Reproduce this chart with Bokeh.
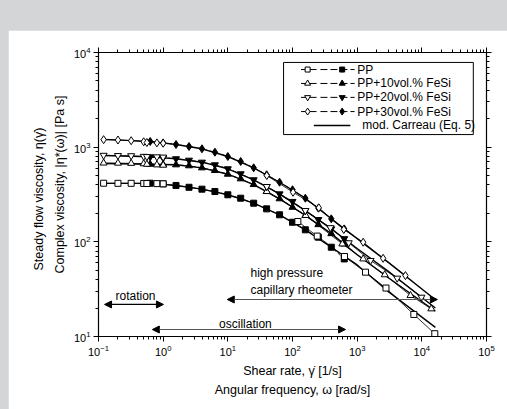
import math
from bokeh.plotting import figure
from bokeh.models import (LogAxis, Range1d, LinearScale, Arrow, NormalHead, Label, Title,
                          BoxAnnotation, LogTicker, CustomJSTickFormatter)
from bokeh.embed import file_html
from bokeh.resources import INLINE

FONT = "Liberation Sans"

# ---------------- data ----------------
# oscillation (complex viscosity, filled symbols)
omega = [0.63, 1.0, 1.58, 2.51, 3.98, 6.31, 10, 15.8, 25.1, 39.8, 63.1, 100, 158, 251, 398, 631]
eta_pp_osc   = [416, 410, 394, 377, 360, 340, 314, 289, 256, 223, 193, 161, 134, 112, 87.7, 66]
eta_pp10_osc = [660, 655, 651, 636, 605, 567, 518, 463, 403, 340, 285, 232, 190, 152, 122, 95]
eta_pp20_osc = [790, 770, 754, 728, 694, 651, 591, 523, 452, 384, 321, 267, 214, 172, 137, 108]
eta_pp30_osc = [1150, 1110, 1067, 1016, 961, 885, 797, 706, 605, 511, 426, 355, 289, 227, 175, 137]

# steady flow (rotation + capillary, open symbols)
rate_rot = [0.12, 0.2, 0.32, 0.5, 0.56, 0.8, 1.0]
eta_pp_rot   = [416, 415, 415, 414, 413, 412, 410]
eta_pp10_rot = [680, 678, 675, 668, 660, 650, 645]
eta_pp20_rot = [820, 815, 812, 800, 795, 790, 785]
eta_pp30_rot = [1200, 1190, 1170, 1140, 1120, 1110, 1100]

rate_cap_pp = [121, 241, 637, 1345, 2790, 7520, 15860]
eta_pp_cap  = [164, 115, 70, 47.8, 32.5, 17.1, 10.7]
rate_cap_pp10 = [40, 160, 590, 1240, 2670, 6680, 14000]
eta_pp10_cap  = [340, 190, 95, 66, 44.9, 27.1, 19.6]
rate_cap_pp20 = [40, 158, 386, 741, 1610, 4160, 9880]
eta_pp20_cap  = [384, 214, 141, 97.7, 63.5, 41.3, 26]
rate_cap_pp30 = [40, 102, 255, 621, 1240, 2520, 5580]
eta_pp30_cap  = [502, 334, 229, 135, 99, 67, 44]

# modified Carreau model curves
rate_mod = [0.12, 0.63, 1.58, 3.98, 10, 25.1, 63.1, 158, 398, 1000, 3000, 16200]
mod_pp   = [414, 414, 394, 360, 314, 256, 193, 134, 87.7, 57, 30, 12.5]
mod_pp10 = [672, 660, 651, 605, 518, 403, 285, 190, 122, 73, 42, 18.5]
mod_pp20 = [818, 790, 754, 694, 591, 452, 321, 214, 137, 85, 49, 20]
mod_pp30 = [1210, 1150, 1067, 961, 797, 605, 426, 289, 175, 108, 61, 24.4]

# measurement-range arrows
rot_range = [0.124, 1.01]
rot_level = 21.8
osc_range = [0.68, 660]
osc_level = 11.85
cap_range = [9.8, 17400]
cap_level = 24.6

legend_labels = ["PP", "PP+10vol.% FeSi", "PP+20vol.% FeSi", "PP+30vol.% FeSi", "mod. Carreau (Eq. 5)"]
x_title = ["Shear rate, \u03b3\u0307 [1/s]", "Angular frequency, \u03c9 [rad/s]"]
y_title = ["Steady flow viscosity, \u03b7(\u03b3\u0307)", "Complex viscosity, |\u03b7*(\u03c9)| [Pa s]"]

# ---------------- figure ----------------
p = figure(width=499, height=379, x_axis_type="log", y_axis_type="log",
           x_range=Range1d(0.1, 1e5), y_range=Range1d(10, 1e4),
           output_backend="svg", toolbar_location=None,
           min_border_left=90, min_border_right=21, min_border_top=22, min_border_bottom=73)
p.margin = (30, 0, 0, 8)
p.xgrid.visible = False
p.ygrid.visible = False
p.outline_line_color = None
p.background_fill_color = "white"
p.border_fill_color = "white"

blank = CustomJSTickFormatter(code="return ''")
p.add_layout(LogAxis(ticker=LogTicker(num_minor_ticks=10), formatter=blank), "above")
p.add_layout(LogAxis(ticker=LogTicker(num_minor_ticks=10), formatter=blank), "right")

for ax in p.xaxis + p.yaxis:
    ax.axis_line_color = "black"
    ax.axis_line_width = 1.2
    ax.major_tick_line_color = "black"
    ax.minor_tick_line_color = "black"
    ax.major_tick_out = 5
    ax.major_tick_in = 0
    ax.minor_tick_out = 3
    ax.minor_tick_in = 0
    ax.major_label_text_font = FONT
    ax.major_label_text_font_size = "11px"
    ax.major_label_text_color = "black"
    ax.major_label_standoff = 3

# axis titles: first line as label of the bottom axis, others as side titles
xb = p.below[0]
xb.axis_label = x_title[0]
xb.axis_label_text_font = FONT
xb.axis_label_text_font_size = "12.5px"
xb.axis_label_text_font_style = "normal"
xb.axis_label_text_color = "black"
xb.axis_label_standoff = 5

def side_title(text, loc, align, offset, standoff):
    p.add_layout(Title(text=text, align=align, offset=offset, standoff=standoff,
                       text_font=FONT, text_font_size="12.5px", text_font_style="normal",
                       text_color="black"), loc)

side_title(x_title[1], "below", "center", 0, 1)
side_title(y_title[1], "left", "left", 63, 8)
side_title(y_title[0], "left", "left", 66, 1)

# ---------------- model lines ----------------
for m in (mod_pp, mod_pp10, mod_pp20, mod_pp30):
    p.line(rate_mod, m, line_color="black", line_width=1.4)

# ---------------- data ----------------
def series(osc, rot, xcap, cap, marker, size):
    p.line(omega, osc, line_color="black", line_width=0.8, line_dash="4 2")
    p.line(rate_rot, rot, line_color="black", line_width=0.8)
    p.line(xcap, cap, line_color="black", line_width=0.8)
    p.scatter(omega, osc, marker=marker, size=size,
              fill_color="black", line_color="black", line_width=1)
    p.scatter(rate_rot, rot, marker=marker, size=size,
              fill_color="white", line_color="black", line_width=1)
    p.scatter(xcap, cap, marker=marker, size=size,
              fill_color="white", line_color="black", line_width=1)

series(eta_pp_osc, eta_pp_rot, rate_cap_pp, eta_pp_cap, "square", 6)
series(eta_pp10_osc, eta_pp10_rot, rate_cap_pp10, eta_pp10_cap, "triangle", 7)
series(eta_pp20_osc, eta_pp20_rot, rate_cap_pp20, eta_pp20_cap, "inverted_triangle", 7)
series(eta_pp30_osc, eta_pp30_rot, rate_cap_pp30, eta_pp30_cap, "diamond", 8)

# ---------------- range arrows ----------------
def dbl_arrow(rng, lvl, color="black"):
    p.add_layout(Arrow(x_start=rng[0], x_end=rng[1], y_start=lvl, y_end=lvl,
                       line_color=color, line_width=1.2,
                       start=NormalHead(size=7, fill_color="black", line_color="black"),
                       end=NormalHead(size=7, fill_color="black", line_color="black")))

dbl_arrow(rot_range, rot_level)
dbl_arrow(osc_range, osc_level, "#555555")
dbl_arrow(cap_range, cap_level, "#555555")

def txt(x, y, s, align="center"):
    p.add_layout(Label(x=x, y=y, text=s, text_font=FONT, text_font_size="12px",
                       text_align=align, text_baseline="middle", text_color="black"))

txt(0.373, 26.5, "rotation")
txt(18.7, 13.7, "oscillation")
txt(22.4, 47.4, "high pressure", "left")
txt(22.4, 31.3, "capillary rheometer", "left")

# ---------------- legend in frame-fraction coordinates ----------------
p.extra_x_ranges = {"fx": Range1d(0, 1)}
p.extra_y_ranges = {"fy": Range1d(0, 1)}
p.extra_x_scales = {"fx": LinearScale()}
p.extra_y_scales = {"fy": LinearScale()}

p.add_layout(BoxAnnotation(left=0.477, right=0.966, bottom=0.711, top=0.965,
                           x_range_name="fx", y_range_name="fy",
                           fill_color="white", fill_alpha=1, line_color="black",
                           line_width=1, line_alpha=1))
rows = [0.940, 0.891, 0.842, 0.792, 0.743]
markers = [("square", 5), ("triangle", 6), ("inverted_triangle", 6), ("diamond", 7)]
for i, (mk, sz) in enumerate(markers):
    r = rows[i]
    p.line([0.522, 0.562], [r, r], x_range_name="fx", y_range_name="fy",
           line_color="black", line_width=1, level="overlay")
    p.line([0.572, 0.660], [r, r], x_range_name="fx", y_range_name="fy",
           line_color="black", line_width=1, line_dash="7 3", level="overlay")
    p.scatter([0.539], [r], marker=mk, size=sz, x_range_name="fx", y_range_name="fy",
              fill_color="white", line_color="black", level="overlay")
    p.scatter([0.628], [r], marker=mk, size=sz, x_range_name="fx", y_range_name="fy",
              fill_color="black", line_color="black", level="overlay")
    p.add_layout(Label(x=0.667, y=r, text=legend_labels[i], x_range_name="fx", y_range_name="fy",
                       text_font=FONT, text_font_size="12px", text_baseline="middle",
                       text_color="black"))
p.line([0.555, 0.649], [rows[4], rows[4]], x_range_name="fx", y_range_name="fy",
       line_color="black", line_width=1.4, level="overlay")
p.add_layout(Label(x=0.680, y=rows[4], text=legend_labels[4], x_range_name="fx", y_range_name="fy",
                   text_font=FONT, text_font_size="12px", text_baseline="middle",
                   text_color="black"))

html = file_html(p, INLINE)
html = html.replace("</head>", "<style>html, body { background: #d4d5d6 !important; overflow: hidden; }</style>\n</head>", 1)
open("out.html", "w").write(html)
